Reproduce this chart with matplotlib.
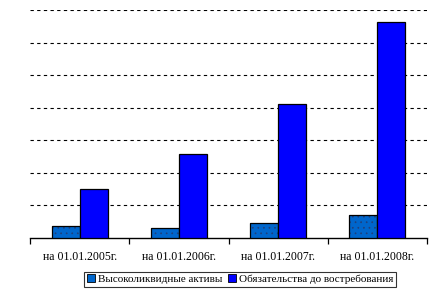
import matplotlib
matplotlib.use("Agg")
import matplotlib.pyplot as plt
import numpy as np
from matplotlib.patches import Patch

categories = ["на 01.01.2005г.", "на 01.01.2006г.", "на 01.01.2007г.", "на 01.01.2008г."]
liquid_assets = [0.37, 0.31, 0.47, 0.72]
demand_liabilities = [1.51, 2.58, 4.11, 6.64]
series_names = ["Высоколиквидные активы", "Обязательства до востребования"]

plt.rcParams['font.family'] = ['Liberation Serif', 'DejaVu Serif']
plt.rcParams['hatch.linewidth'] = 0.5

fig = plt.figure(figsize=(4.46, 2.94), dpi=100)
ax = fig.add_axes([30/446, 1-238/294, 397/446, 228/294])

x = np.arange(len(categories))
w = 0.283
c1 = "#0066CC"
c2 = "#0000FF"

ax.bar(x - w/2, liquid_assets, w, color=c1, edgecolor="#1f3f7a", hatch='...', linewidth=0, zorder=3)
ax.bar(x - w/2, liquid_assets, w, fill=False, edgecolor="black", linewidth=0.9, zorder=4)
ax.bar(x + w/2, demand_liabilities, w, color=c2, edgecolor="black", linewidth=0.9, zorder=4)

ax.set_xlim(-0.5, len(categories) - 0.5)
ax.set_ylim(0, 7)
ax.set_yticks(np.arange(1, 8))
ax.yaxis.grid(True, color="black", linestyle=(0, (3, 3)), linewidth=0.8)
ax.tick_params(axis='y', left=False, labelleft=False)
for s in ["left", "right", "top"]:
    ax.spines[s].set_visible(False)
ax.spines["bottom"].set_linewidth(1.0)

ax.set_xticks(x)
ax.set_xticklabels(categories, fontsize=8.5)
ax.tick_params(axis='x', length=0, pad=9)
ax.set_xticks(np.arange(-0.5, len(categories)), minor=True)
ax.tick_params(axis='x', which='minor', length=4, width=0.9, direction='out')

handles = [Patch(facecolor=c1, edgecolor="black", linewidth=0.6),
           Patch(facecolor=c2, edgecolor="black", linewidth=0.6)]
leg = fig.legend(handles, series_names, loc='lower center', bbox_to_anchor=(240/446, 7/294),
                 ncol=2, frameon=True, fancybox=False, fontsize=8,
                 handlelength=0.7, handleheight=0.7, handletextpad=0.3, columnspacing=0.5,
                 borderpad=0.25, borderaxespad=0)
leg.get_frame().set_edgecolor("black")
leg.get_frame().set_linewidth(0.8)

fig.savefig("out.png", dpi=100)
